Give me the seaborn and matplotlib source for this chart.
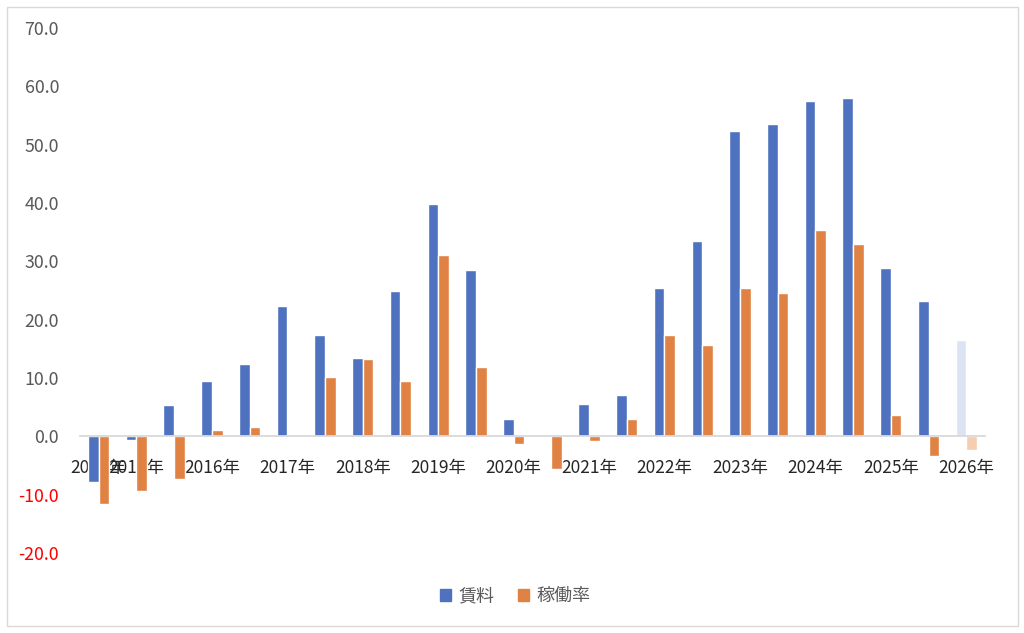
import matplotlib
matplotlib.use("Agg")
import matplotlib.pyplot as plt
import matplotlib.patches as mpatches
import seaborn as sns
import pandas as pd

# half-year periods, label shown only on some of them
tick_labels = ["2014年", "2015年", "", "2016年", "", "2017年", "", "2018年", "",
               "2019年", "", "2020年", "", "2021年", "", "2022年", "", "2023年", "",
               "2024年", "", "2025年", "", "2026年"]

rent = [-7.8, -0.7, 5.4, 9.4, 12.4, 22.4, 17.4, 13.5, 24.9, 39.8, 28.5, 3.0,
        0.3, 5.5, 7.0, 25.4, 33.5, 52.3, 53.5, 57.4, 58.0, 28.9, 23.2, 16.5]
occupancy = [-11.6, -9.45, -7.4, 1.06, 1.6, 0.26, 10.2, 13.2, 9.45, 31.1, 11.8, -1.34,
             -5.6, -0.77, 2.9, 17.4, 15.7, 25.5, 24.5, 35.4, 33.0, 3.6, -3.3, -2.3]

series_names = ["賃料", "稼働率"]
colors = ["#4F72C0", "#E08243"]
faded = ["#DCE3F3", "#F6CDAF"]

n = len(rent)
df = pd.DataFrame({
    "period": list(range(n)) * 2,
    "value": rent + occupancy,
    "series": [series_names[0]] * n + [series_names[1]] * n,
})

sns.set_theme(style="white")
plt.rcParams['font.family'] = ['Noto Sans CJK JP', 'DejaVu Sans']

fig = plt.figure(figsize=(10.24, 6.33), dpi=100)
ax = fig.add_axes([0.078, 0.1264, 0.884, 0.8294])

sns.barplot(data=df, x="period", y="value", hue="series", hue_order=series_names,
            palette=colors, width=0.566, gap=0, ax=ax, legend=False, saturation=1)

# last period is a forecast, drawn faded
for cont, fc in zip(ax.containers, faded):
    cont[-1].set_facecolor(fc)

ax.set_xlim(-0.5, n - 0.5)
ax.set_ylim(-20, 70)
ax.set_yticks(range(-20, 71, 10))
ax.set_yticklabels([f"{v:.1f}" for v in range(-20, 71, 10)])
for lbl, v in zip(ax.get_yticklabels(), range(-20, 71, 10)):
    lbl.set_color("#FF0000" if v < 0 else "#595959")

ax.set_xticks(range(n))
ax.set_xticklabels(tick_labels, color="#595959")
ax.set_xlabel("")
ax.set_ylabel("")

for s in ["top", "right", "left"]:
    ax.spines[s].set_visible(False)
ax.spines["bottom"].set_position(("data", 0))
ax.spines["bottom"].set_color("#D9D9D9")
ax.spines["bottom"].set_linewidth(1.3)
ax.spines["bottom"].set_zorder(5)

ax.tick_params(axis="x", length=0, pad=16, labelsize=12.5)
ax.tick_params(axis="y", length=0, pad=15, labelsize=12.8)
ax.grid(False)

handles = [mpatches.Patch(color=c, label=l) for c, l in zip(colors, series_names)]
leg = fig.legend(handles=handles, loc="center", bbox_to_anchor=(0.503, 0.058), ncol=2,
                 frameon=False, fontsize=13, handlelength=0.6, handleheight=0.6,
                 handletextpad=0.4, columnspacing=1.3)
for t in leg.get_texts():
    t.set_color("#595959")

fig.patches.append(mpatches.Rectangle((0.0068, 0.011), 0.987, 0.978, transform=fig.transFigure,
                                      fill=False, edgecolor="#D9D9D9", linewidth=1))

fig.savefig("out.png", dpi=100)
